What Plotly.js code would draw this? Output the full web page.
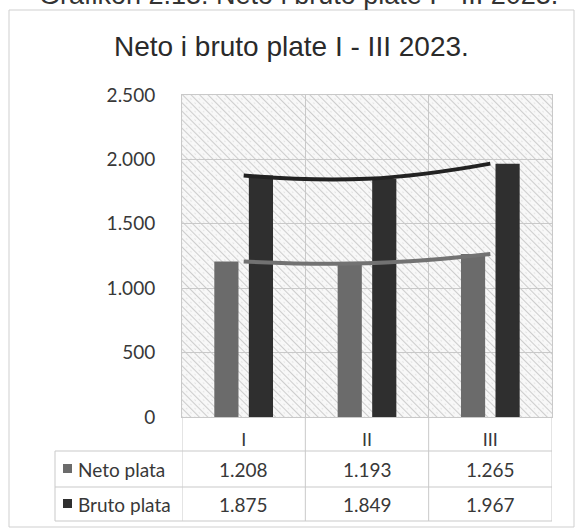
<!DOCTYPE html>
<html>
<head>
<meta charset="utf-8">
<script src="https://cdn.plot.ly/plotly-3.0.1.min.js"></script>
<style>html,body{margin:0;padding:0;background:#fff;}#chart{width:577px;height:529px;}</style>
</head>
<body>
<div id="chart"></div>
<script>
// ---- data ----
const categories = ['I', 'II', 'III'];
const netoName = 'Neto plata';
const brutoName = 'Bruto plata';
const netoValues = [1208, 1193, 1265];
const brutoValues = [1875, 1849, 1967];
const chartTitle = 'Neto i bruto plate I - III 2023.';
const captionText = 'Grafikon 2.13: Neto i bruto plate I - III 2023.';

// ---- styles / layout constants ----
const W = 577, H = 529;
const M = {l: 182, r: 25, t: 95, b: 112};
const PW = W - M.l - M.r, PH = H - M.t - M.b;
const px = x => (x - M.l) / PW;           // pixel x -> paper
const py = y => (H - M.b - y) / PH;       // pixel y -> paper
const netoColor = '#6b6b6b';
const brutoColor = '#2f2f2f';
const gridColor = '#c9c9c9';
const textColor = '#383838';
const tableFont = {family: 'Lato, Carlito, Calibri, sans-serif', size: 19, color: textColor};

function fmt(v) { return String(v).replace(/\B(?=(\d{3})+(?!\d))/g, '.'); }

// hatched plot-area background
const svg = "<svg xmlns='http://www.w3.org/2000/svg' width='" + PW + "' height='" + PH + "'>" +
  "<defs><pattern id='p' width='6' height='6' patternUnits='userSpaceOnUse' patternTransform='rotate(-45)'>" +
  "<rect width='6' height='6' fill='#f8f8f8'/>" +
  "<line x1='0.5' y1='0' x2='0.5' y2='6' stroke='#cdcdcd' stroke-width='1.1'/>" +
  "<circle cx='3.5' cy='3' r='0.55' fill='#d0d0d0'/>" +
  "</pattern></defs><rect width='100%' height='100%' fill='url(#p)'/></svg>";
const bgSrc = 'data:image/svg+xml;charset=utf-8,' + encodeURIComponent(svg);

const traces = [
  {type: 'bar', name: netoName, x: categories, y: netoValues,
   marker: {color: netoColor}, hoverinfo: 'skip'},
  {type: 'bar', name: brutoName, x: categories, y: brutoValues,
   marker: {color: brutoColor}, hoverinfo: 'skip'},
  {type: 'scatter', mode: 'lines', x: categories, y: netoValues,
   line: {color: '#727272', width: 4, shape: 'spline', smoothing: 1.3}, hoverinfo: 'skip', showlegend: false},
  {type: 'scatter', mode: 'lines', x: categories, y: brutoValues,
   line: {color: '#222222', width: 4, shape: 'spline', smoothing: 1.3}, hoverinfo: 'skip', showlegend: false}
];

// table geometry (pixels)
const tTop = 451, tMid = 487, tBot = 521, tLeft = 55, axisY = H - M.b;
const shapes = [];
const line = (o) => Object.assign({type: 'line', line: {color: gridColor, width: 1}, layer: 'above'}, o);
// horizontal table lines
[tTop, tMid, tBot].forEach(y => shapes.push(line({xref: 'paper', yref: 'paper', x0: px(tLeft), x1: 1, y0: py(y), y1: py(y)})));
// vertical table lines at category boundaries
for (let i = 0; i <= categories.length; i++) {
  shapes.push(line({xref: 'x', yref: 'paper', x0: i - 0.5, x1: i - 0.5, y0: py(axisY), y1: py(tBot)}));
}
shapes.push(line({xref: 'paper', yref: 'paper', x0: px(tLeft), x1: px(tLeft), y0: py(tTop), y1: py(tBot)}));
// legend keys
[[netoColor, (tTop + tMid) / 2], [brutoColor, (tMid + tBot) / 2]].forEach(([c, yc]) => {
  shapes.push({type: 'rect', xref: 'paper', yref: 'paper', x0: px(63), x1: px(72), y0: py(yc - 5), y1: py(yc + 4),
    fillcolor: c, line: {width: 0}});
});
// outer chart frame
shapes.push({type: 'rect', xref: 'paper', yref: 'paper', x0: px(9), x1: px(574), y0: py(10), y1: py(527),
  line: {color: '#cfcfcf', width: 1}, fillcolor: 'rgba(0,0,0,0)', layer: 'below'});

const annotations = [];
const rows = [[netoName, netoValues, (tTop + tMid) / 2], [brutoName, brutoValues, (tMid + tBot) / 2]];
rows.forEach(([name, vals, yc]) => {
  annotations.push({xref: 'paper', yref: 'paper', x: px(76), y: py(yc), xanchor: 'left', yanchor: 'middle',
    text: name, showarrow: false, font: tableFont});
  vals.forEach((v, i) => annotations.push({xref: 'x', yref: 'paper', x: i, y: py(yc), xanchor: 'center', yanchor: 'middle',
    text: fmt(v), showarrow: false, font: tableFont}));
});
annotations.push({xref: 'paper', yref: 'paper', x: px(37), y: py(-5), xanchor: 'left', yanchor: 'middle',
  text: captionText, showarrow: false, font: {family: 'Liberation Sans, Arial, sans-serif', size: 27, color: '#333'}});

const layout = {
  width: W, height: H,
  margin: M,
  paper_bgcolor: '#ffffff',
  plot_bgcolor: 'rgba(0,0,0,0)',
  separators: ',.',
  showlegend: false,
  barmode: 'group',
  bargap: 0.44,
  bargroupgap: 0.30,
  title: {text: chartTitle, x: 0.505, xanchor: 'center', xref: 'container', yref: 'container',
    y: 1 - 46 / H, yanchor: 'middle',
    font: {family: 'Liberation Sans, Arial, sans-serif', size: 28, color: '#2a2a2a'}},
  xaxis: {type: 'category', range: [-0.5, 2.5], tickson: 'boundaries', showgrid: true, gridcolor: gridColor,
    gridwidth: 1, ticks: '', showline: true, linecolor: gridColor, mirror: true,
    tickfont: {family: 'Lato, sans-serif', size: 18, color: textColor}, ticklabelstandoff: 6, fixedrange: true},
  yaxis: {range: [0, 2500], dtick: 500, tick0: 0, tickformat: ',d', showgrid: true, gridcolor: gridColor,
    gridwidth: 1, zeroline: false, ticks: '', showline: true, linecolor: gridColor, mirror: true,
    tickfont: {family: 'Lato, sans-serif', size: 19, color: textColor}, ticklabelstandoff: 22, fixedrange: true},
  images: [{source: bgSrc, xref: 'x domain', yref: 'y domain', x: 0, y: 1, sizex: 1, sizey: 1,
    xanchor: 'left', yanchor: 'top', sizing: 'stretch', layer: 'below'}],
  shapes: shapes,
  annotations: annotations
};

Plotly.newPlot('chart', traces, layout, {displayModeBar: false, staticPlot: true});
</script>
</body>
</html>
